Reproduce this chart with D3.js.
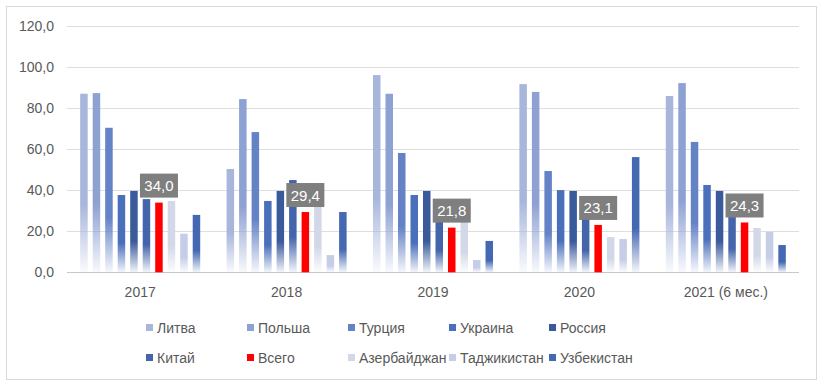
<!DOCTYPE html>
<html>
<head>
<meta charset="utf-8">
<script src="https://cdn.jsdelivr.net/npm/d3@7"></script>
<style>
  html, body { margin: 0; padding: 0; background: #fff; }
  svg { display: block; font-family: "Liberation Sans", Arial, sans-serif; }
</style>
</head>
<body>
<svg id="chart" width="825" height="385"></svg>
<script>
const categories = ["2017", "2018", "2019", "2020", "2021 (6 мес.)"];
const seriesNames = ["Литва", "Польша", "Турция", "Украина", "Россия", "Китай", "Всего", "Азербайджан", "Таджикистан", "Узбекистан"];
const seriesColors = ["#a8b6dc", "#8ea1d3", "#6482c6", "#4a70bb", "#3a5a9c", "#4465ab", "#ff0000", "#d2d8e8", "#c6cde7", "#4468b2"];
const values = {
  "Литва":       [87.1, 50.4, 96.2, 91.8, 86.0],
  "Польша":      [87.4, 84.5, 87.1, 88.0, 92.3],
  "Турция":      [70.5, 68.4, 58.2, 49.4, 63.6],
  "Украина":     [37.7, 34.8, 37.7, 40.1, 42.6],
  "Россия":      [39.7, 39.7, 39.7, 39.7, 39.7],
  "Китай":       [35.7, 45.0, 28.0, 28.0, 30.0],
  "Всего":       [34.0, 29.4, 21.8, 23.1, 24.3],
  "Азербайджан": [34.8, 33.0, 26.0, 17.2, 21.6],
  "Таджикистан": [18.8, 8.4, 6.0, 16.2, 19.7],
  "Узбекистан":  [28.0, 29.4, 15.3, 56.2, 13.3]
};
const yTicks = [0, 20, 40, 60, 80, 100, 120];
const labelSeries = "Всего";

const svg = d3.select("#chart");
const fmt = v => d3.format(".1f")(v).replace(".", ",");

// chart border
svg.append("rect").attr("x", 6.5).attr("y", 6.5).attr("width", 810).attr("height", 373)
  .attr("fill", "#fff").attr("stroke", "#d9d9d9");

const x0 = d3.scaleBand().domain(categories).range([67, 799]).paddingInner(0.146).paddingOuter(0.073);
const x1 = d3.scaleBand().domain(seriesNames).range([0, x0.bandwidth()]).paddingInner(0.4).paddingOuter(0.2);
const y = d3.scaleLinear().domain([0, 120]).range([272.3, 26.3]);

// gradients
const defs = svg.append("defs");
seriesNames.forEach((s, i) => {
  const g = defs.append("linearGradient").attr("id", "g" + i)
    .attr("x1", 0).attr("y1", 0).attr("x2", 0).attr("y2", 1);
  g.append("stop").attr("offset", 0).attr("stop-color", seriesColors[i]);
  g.append("stop").attr("offset", 0.62).attr("stop-color", seriesColors[i]);
  g.append("stop").attr("offset", 1).attr("stop-color", seriesColors[i]).attr("stop-opacity", 0.06);
});

// gridlines
const grid = svg.append("g");
grid.selectAll("line").data(yTicks).join("line")
  .attr("x1", 67).attr("x2", 799)
  .attr("y1", d => Math.round(y(d)) + 0.5).attr("y2", d => Math.round(y(d)) + 0.5)
  .attr("stroke", d => d === 0 ? "#c8c8c8" : "#dedede").attr("stroke-width", 1);

// y axis labels
const yAxis = d3.axisLeft(y).tickValues(yTicks).tickFormat(fmt).tickSize(0).tickPadding(0);
const ya = svg.append("g").attr("transform", "translate(54,0)").call(yAxis);
ya.select(".domain").remove();
ya.selectAll("text").attr("fill", "#595959").style("font-size", "14px")
  .style("font-family", "'Liberation Sans', Arial, sans-serif");

// bars
const groups = svg.append("g").selectAll("g").data(categories).join("g")
  .attr("transform", d => `translate(${x0(d)},0)`);
groups.selectAll("rect").data((c, ci) => seriesNames.map((s, si) => ({ s, si, v: values[s][ci] })))
  .join("rect")
  .attr("x", d => x1(d.s))
  .attr("width", x1.bandwidth())
  .attr("y", d => y(d.v))
  .attr("height", d => y(0) - y(d.v))
  .attr("fill", d => d.s === labelSeries ? seriesColors[d.si] : `url(#g${d.si})`);

// x axis labels
const xAxis = d3.axisBottom(x0).tickSize(0).tickPadding(0);
const xa = svg.append("g").attr("transform", "translate(0,287)").call(xAxis);
xa.select(".domain").remove();
xa.selectAll("text").attr("fill", "#595959").style("font-size", "14px")
  .style("font-family", "'Liberation Sans', Arial, sans-serif");

// data labels for total
const lab = svg.append("g").selectAll("g").data(categories).join("g")
  .attr("transform", (c, ci) => {
    const cx = x0(c) + x1(labelSeries) + x1.bandwidth() / 2;
    const top = y(values[labelSeries][ci]);
    return `translate(${cx},${top - 5})`;
  });
lab.append("rect").attr("x", -19).attr("y", -24).attr("width", 38).attr("height", 24).attr("fill", "#7f7f7f");
lab.append("text").attr("x", 0).attr("y", -6.5).attr("text-anchor", "middle")
  .attr("fill", "#fff").style("font-size", "15px")
  .text((c, ci) => fmt(values[labelSeries][ci]));

// legend
const legX = [146, 247, 348, 449, 549];
const legY = [328, 358];
const leg = svg.append("g").selectAll("g").data(seriesNames).join("g")
  .attr("transform", (d, i) => `translate(${legX[i % 5]},${legY[Math.floor(i / 5)]})`);
leg.append("rect").attr("x", 0).attr("y", -4).attr("width", 7).attr("height", 7)
  .attr("fill", (d, i) => seriesColors[i]);
leg.append("text").attr("x", 11).attr("y", 5).attr("fill", "#595959").style("font-size", "14px")
  .text(d => d);
</script>
</body>
</html>
